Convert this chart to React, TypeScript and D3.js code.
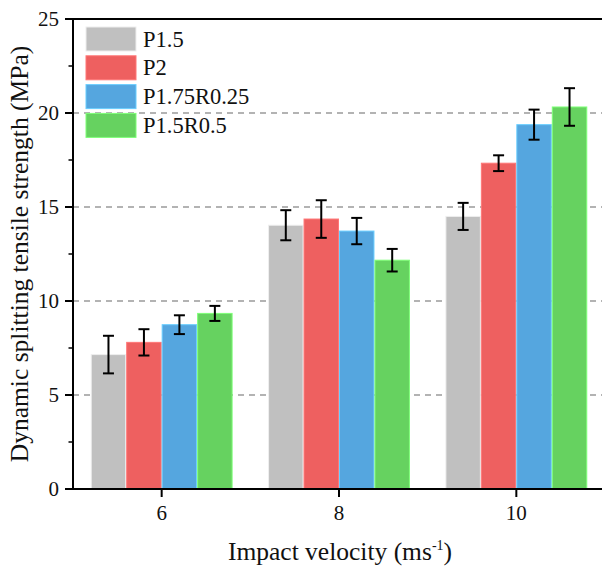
import React from "react";
import * as d3 from "d3";

// Impact velocities (m/s) and the four mix series
const velocities = [6, 8, 10];
const seriesNames = ["P1.5", "P2", "P1.75R0.25", "P1.5R0.5"];
const seriesColors = ["#c0c0c0", "#ee6060", "#55a6df", "#66d260"];

// Mean dynamic splitting tensile strength (MPa) per series, per velocity
const p15Mean = [7.15, 14.03, 14.5];
const p2Mean = [7.8, 14.36, 17.33];
const p175r025Mean = [8.74, 13.72, 19.38];
const p15r05Mean = [9.34, 12.17, 20.32];

// Standard deviation (error bar half-length)
const p15Err = [1.0, 0.8, 0.72];
const p2Err = [0.7, 1.0, 0.42];
const p175r025Err = [0.5, 0.7, 0.8];
const p15r05Err = [0.4, 0.6, 1.0];

const yTicks = [0, 5, 10, 15, 20, 25];
const yMinorTicks = [2.5, 7.5, 12.5, 17.5, 22.5];
const gridValues = [5, 10, 15, 20];

const means = [p15Mean, p2Mean, p175r025Mean, p15r05Mean];
const errs = [p15Err, p2Err, p175r025Err, p15r05Err];

const W = 602;
const H = 567;
const left = 73;
const right = 605;
const top = 19;
const bottom = 489;

const font =
  '"Liberation Serif", Tinos, "Times New Roman", Times, "DejaVu Serif", serif';
const txt = { fontFamily: font };

export default function App() {
  const x = d3.scaleLinear().domain([5, 11]).range([left, right]);
  const y = d3.scaleLinear().domain([0, 25]).range([bottom, top]);
  const barUnits = 0.4;
  const barW = x(5 + barUnits) - x(5);

  const bars: React.ReactNode[] = [];
  const errBars: React.ReactNode[] = [];
  means.forEach((vals, si) => {
    vals.forEach((v, ci) => {
      const cx = x(velocities[ci] + (si - 1.5) * barUnits);
      const bx = cx - barW / 2;
      bars.push(
        <rect
          key={`b${si}-${ci}`}
          x={bx + 0.5}
          y={y(v)}
          width={barW - 1}
          height={y(0) - y(v)}
          fill={seriesColors[si]}
          stroke={d3.color(seriesColors[si])!.brighter(0.6).formatHex()}
          strokeWidth={1}
        />
      );
      const e = errs[si][ci];
      const yt = y(v + e);
      const yb = y(v - e);
      errBars.push(
        <g key={`e${si}-${ci}`} stroke="#000" strokeWidth={2}>
          <line x1={cx} x2={cx} y1={yt} y2={yb} />
          <line x1={cx - 5.5} x2={cx + 5.5} y1={yt} y2={yt} />
          <line x1={cx - 5.5} x2={cx + 5.5} y1={yb} y2={yb} />
        </g>
      );
    });
  });

  const legendRowH = 28.8;
  return (
    <svg
      width={W}
      height={H}
      style={{ position: "absolute", left: 0, top: 0, background: "#fff" }}
    >
      {/* dashed horizontal grid */}
      {gridValues.map((g) => (
        <line
          key={`g${g}`}
          x1={left}
          x2={right}
          y1={y(g)}
          y2={y(g)}
          stroke="#9a9a9a"
          strokeWidth={1.3}
          strokeDasharray="6,5"
        />
      ))}

      {bars}
      {errBars}

      {/* axes frame */}
      <line x1={left} x2={left} y1={top} y2={bottom} stroke="#000" strokeWidth={2} />
      <line x1={left - 1} x2={right} y1={bottom} y2={bottom} stroke="#000" strokeWidth={2} />
      <line x1={left - 1} x2={right} y1={top} y2={top} stroke="#000" strokeWidth={2} />

      {/* y ticks */}
      {yTicks.map((t) => (
        <g key={`yt${t}`}>
          <line x1={left - 8} x2={left} y1={y(t)} y2={y(t)} stroke="#000" strokeWidth={2} />
          <text x={left - 14} y={y(t) + 6.5} textAnchor="end" fontSize={21} fill="#111" style={txt}>
            {t}
          </text>
        </g>
      ))}
      {yMinorTicks.map((t) => (
        <line key={`ym${t}`} x1={left - 4.5} x2={left} y1={y(t)} y2={y(t)} stroke="#000" strokeWidth={1.5} />
      ))}

      {/* x ticks */}
      {velocities.map((v) => (
        <g key={`xt${v}`}>
          <line x1={x(v)} x2={x(v)} y1={bottom} y2={bottom + 8} stroke="#000" strokeWidth={2} />
          <text x={x(v)} y={bottom + 31} textAnchor="middle" fontSize={21} fill="#111" style={txt}>
            {v}
          </text>
        </g>
      ))}

      {/* axis titles */}
      <text
        transform={`translate(${28},${(top + bottom) / 2}) rotate(-90)`}
        textAnchor="middle"
        fontSize={25.5}
        fill="#111"
        style={txt}
      >
        Dynamic splitting tensile strength (MPa)
      </text>
      <text x={340} y={560} textAnchor="middle" fontSize={25.5} fill="#111" style={txt}>
        Impact velocity (ms
        <tspan dy={-10} fontSize={14}>-1</tspan>
        <tspan dy={10}>)</tspan>
      </text>

      {/* legend */}
      {seriesNames.map((name, i) => (
        <g key={`lg${i}`}>
          <rect
            x={86}
            y={27 + i * legendRowH}
            width={50}
            height={24}
            fill={seriesColors[i]}
            stroke={d3.color(seriesColors[i])!.brighter(0.6).formatHex()}
            strokeWidth={1}
          />
          <text x={143} y={46.5 + i * legendRowH} fontSize={22.5} fill="#111" style={txt}>
            {name}
          </text>
        </g>
      ))}
    </svg>
  );
}
